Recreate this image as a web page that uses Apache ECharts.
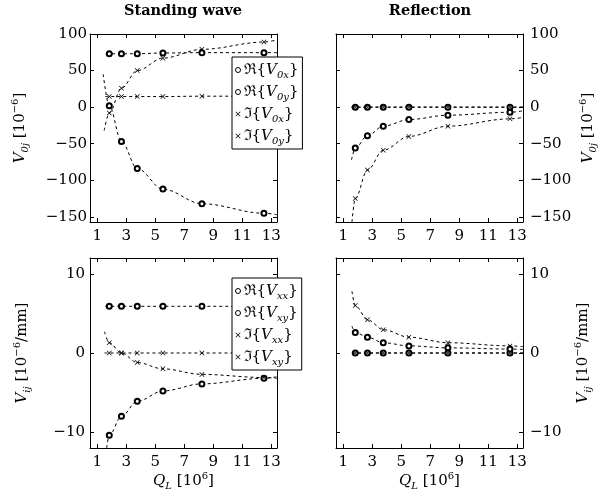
<!DOCTYPE html>
<html><head><meta charset="utf-8">
<script src="https://cdn.jsdelivr.net/npm/echarts@6/dist/echarts.min.js"></script>
<style>html,body{margin:0;padding:0;background:#fff}#c{width:609px;height:500px}</style>
</head><body><div id="c"></div>
<script>
// ---- data ----
const qL = [1.83, 2.67, 3.76, 5.53, 8.22, 12.5];      // Q_L [10^6]
const xTicks = [1, 3, 5, 7, 9, 11, 13];
const yTicksV0 = [-150, -100, -50, 0, 50, 100];
const yTicksVij = [-10, 0, 10];
const panelTitles = ['Standing wave', 'Reflection'];

// Standing wave, V0j [1e-6]
const swRe0x = [73, 73, 73, 74, 74.5, 74.5];   const swRe0xEnds = [[1.6, 73], [13.4, 74.5]];
const swRe0y = [2, -47, -84, -112, -132, -145]; const swRe0yEnds = [[1.41, 45], [13.4, -147]];
const swIm0x = [14.5, 14.5, 14.5, 14.5, 15, 15]; const swIm0xEnds = [[1.55, 14.5], [13.4, 15]];
const swIm0y = [-8, 26, 50, 67, 79, 89];        const swIm0yEnds = [[1.48, -32], [13.4, 92]];
// Reflection, V0j [1e-6]
const rfRe0x = [0, 0, 0, 0, 0, 0];              const rfRe0xEnds = [[1.57, 0], [13.4, 0]];
const rfRe0y = [-56, -39, -26, -17, -11, -7];   const rfRe0yEnds = [[1.57, -72], [13.4, -5]];
const rfIm0x = [0, 0, 0, 0, 0, 0];              const rfIm0xEnds = [[1.57, 0], [13.4, 0]];
const rfIm0y = [-125, -86, -59, -40, -26, -16]; const rfIm0yEnds = [[1.6, -157], [13.4, -14]];
// Standing wave, Vij [1e-6/mm]
const swRexx = [5.9, 5.9, 5.9, 5.9, 5.9, 5.9];  const swRexxEnds = [[1.55, 5.9], [13.4, 5.9]];
const swRexy = [-10.4, -8.0, -6.1, -4.8, -3.9, -3.2]; const swRexyEnds = [[1.65, -12], [13.4, -3.0]];
const swImxx = [0, 0, 0, 0, 0, 0];              const swImxxEnds = [[1.5, 0], [13.4, 0]];
const swImxy = [1.3, 0, -1.2, -2.0, -2.7, -3.1]; const swImxyEnds = [[1.5, 2.7], [13.4, -3.2]];
// Reflection, Vij [1e-6/mm]
const rfRexx = [0, 0, 0, 0, 0, 0];              const rfRexxEnds = [[1.6, 0], [13.4, 0]];
const rfRexy = [2.6, 2.0, 1.3, 0.9, 0.65, 0.5]; const rfRexyEnds = [[1.6, 3.4], [13.4, 0.45]];
const rfImxx = [0, 0, 0, 0, 0, 0];              const rfImxxEnds = [[1.6, 0], [13.4, 0]];
const rfImxy = [6.0, 4.2, 2.95, 2.0, 1.3, 0.9]; const rfImxyEnds = [[1.6, 7.8], [13.4, 0.8]];

// ---- styling / construction ----
const FONT = 'DejaVu Serif';
const XSYM = 'path://M0,1L1,0L5,4L9,0L10,1L6,5L10,9L9,10L5,6L1,10L0,9L4,5Z';
const grids = [
  {left: 90, top: 34, width: 187, height: 188},
  {left: 336, top: 34, width: 187, height: 188},
  {left: 90, top: 258, width: 187, height: 190},
  {left: 336, top: 258, width: 187, height: 190}
];
const minus = v => String(v).replace('-', '\u2212');
const rich = {
  n: {fontFamily: FONT, fontSize: 15, lineHeight: 20, color: '#000'},
  f: {fontFamily: FONT, fontSize: 15, lineHeight: 20, color: '#000'},
  i: {fontFamily: FONT, fontSize: 15, lineHeight: 20, fontStyle: 'italic', color: '#000'},
  s: {fontFamily: FONT, fontSize: 10, lineHeight: 10, fontStyle: 'italic', verticalAlign: 'bottom', color: '#000'},
  p: {fontFamily: FONT, fontSize: 10, lineHeight: 10, verticalAlign: 'top', color: '#000'}
};
const nameV0 = '{i|V}{s|0j}{n| [10}{p|\u22126}{n|]}';
const nameVij = '{i|V}{s|ij}{n| [10}{p|\u22126}{n|/mm]}';
const nameQ = '{i|Q}{s|L}{n| [10}{p|6}{n|]}';

const xAxis = [], yAxis = [];
grids.forEach((g, k) => {
  const bottomRow = k >= 2, rightCol = k % 2 === 1;
  const common = {type: 'value', gridIndex: k, min: 0.5, max: 13.4, splitLine: {show: false},
    axisLine: {show: true, onZero: false, lineStyle: {color: '#000', width: 1}},
    axisTick: {show: true, inside: true, length: 4, customValues: xTicks, lineStyle: {color: '#000'}}};
  xAxis.push(Object.assign({}, common, {position: 'bottom',
    axisLabel: {customValues: xTicks, margin: 7, color: '#000', fontFamily: FONT, fontSize: 15},
    name: bottomRow ? nameQ : '', nameLocation: 'middle', nameGap: 23,
    nameTextStyle: {rich: rich}}));
  xAxis.push(Object.assign({}, common, {position: 'top', axisLabel: {show: false}}));
  const yt = bottomRow ? yTicksVij : yTicksV0;
  const ymin = bottomRow ? -12 : -157, ymax = bottomRow ? 12 : 100;
  const yc = {type: 'value', gridIndex: k, min: ymin, max: ymax, splitLine: {show: false},
    axisLine: {show: true, onZero: false, lineStyle: {color: '#000', width: 1}},
    axisTick: {show: true, inside: true, length: 4, customValues: yt, lineStyle: {color: '#000'}}};
  yAxis.push(Object.assign({}, yc, {position: rightCol ? 'right' : 'left',
    axisLabel: {customValues: yt, margin: rightCol ? 7 : (bottomRow ? 5 : 3), color: '#000', fontFamily: FONT, fontSize: 15, formatter: minus},
    name: bottomRow ? nameVij : nameV0, nameLocation: 'middle', nameRotate: 90,
    nameGap: rightCol ? (bottomRow ? 50 : 55) : (bottomRow ? 58 : 60),
    nameTextStyle: {rich: rich}}));
  yAxis.push(Object.assign({}, yc, {position: rightCol ? 'left' : 'right', axisLabel: {show: false}}));
});

function curve(ys, ends) {
  const d = [{value: ends[0], symbol: 'none'}];
  qL.forEach((x, i) => d.push([x, ys[i]]));
  d.push({value: ends[1], symbol: 'none'});
  return d;
}
function mk(name, k, ys, ends, mark) {
  return {name: name, type: 'line', xAxisIndex: 2 * k, yAxisIndex: 2 * k,
    data: curve(ys, ends), smooth: 0.35, smoothMonotone: 'x',
    symbol: mark === 'o' ? 'emptyCircle' : XSYM, symbolSize: 5, showSymbol: true, showAllSymbol: true,
    lineStyle: {color: '#000', width: 1, type: [3, 3]},
    itemStyle: {color: '#000', borderWidth: 0.8}, emphasis: {disabled: true}, silent: true};
}
const series = [
  mk('swRe0x', 0, swRe0x, swRe0xEnds, 'o'), mk('swRe0y', 0, swRe0y, swRe0yEnds, 'o'),
  mk('swIm0x', 0, swIm0x, swIm0xEnds, 'x'), mk('swIm0y', 0, swIm0y, swIm0yEnds, 'x'),
  mk('rfRe0x', 1, rfRe0x, rfRe0xEnds, 'o'), mk('rfRe0y', 1, rfRe0y, rfRe0yEnds, 'o'),
  mk('rfIm0x', 1, rfIm0x, rfIm0xEnds, 'x'), mk('rfIm0y', 1, rfIm0y, rfIm0yEnds, 'x'),
  mk('swRexx', 2, swRexx, swRexxEnds, 'o'), mk('swRexy', 2, swRexy, swRexyEnds, 'o'),
  mk('swImxx', 2, swImxx, swImxxEnds, 'x'), mk('swImxy', 2, swImxy, swImxyEnds, 'x'),
  mk('rfRexx', 3, rfRexx, rfRexxEnds, 'o'), mk('rfRexy', 3, rfRexy, rfRexyEnds, 'o'),
  mk('rfImxx', 3, rfImxx, rfImxxEnds, 'x'), mk('rfImxy', 3, rfImxy, rfImxyEnds, 'x')
];
const legendText = {
  swRe0x: '{f|\u211C{}{i|V}{s|0x}}', swRe0y: '{f|\u211C{}{i|V}{s|0y}}',
  swIm0x: '{f|\u2111{}{i|V}{s|0x}}', swIm0y: '{f|\u2111{}{i|V}{s|0y}}',
  swRexx: '{f|\u211C{}{i|V}{s|xx}}', swRexy: '{f|\u211C{}{i|V}{s|xy}}',
  swImxx: '{f|\u2111{}{i|V}{s|xx}}', swImxy: '{f|\u2111{}{i|V}{s|xy}}'
};
function legendItem(name, mark) {
  return mark === 'o'
    ? {name: name, icon: 'circle', itemStyle: {color: '#fff', borderColor: '#000', borderWidth: 1}}
    : {name: name, icon: XSYM, itemStyle: {color: '#000', borderWidth: 0}};
}
function legend(names, top) {
  return {orient: 'vertical', left: 232, top: top, itemWidth: 5, itemHeight: 5, itemGap: 2,
    padding: [3, 4, 3, 3], borderColor: '#000', borderWidth: 1, backgroundColor: '#fff',
    selectedMode: false, z: 10,
    data: [legendItem(names[0], 'o'), legendItem(names[1], 'o'), legendItem(names[2], 'x'), legendItem(names[3], 'x')],
    formatter: n => legendText[n],
    textStyle: {fontFamily: FONT, fontSize: 15, lineHeight: 20, color: '#000', padding: [0, 0, 0, -2], rich: rich}};
}
const chart = echarts.init(document.getElementById('c'), null, {renderer: 'canvas'});
chart.setOption({
  animation: false,
  backgroundColor: '#fff',
  title: [
    {text: panelTitles[0], left: 183, top: 4, textAlign: 'center', padding: 0,
      textStyle: {fontFamily: FONT, fontWeight: 'bold', fontSize: 14.5, color: '#000'}},
    {text: panelTitles[1], left: 430, top: 4, textAlign: 'center', padding: 0,
      textStyle: {fontFamily: FONT, fontWeight: 'bold', fontSize: 14.5, color: '#000'}}
  ],
  grid: grids,
  xAxis: xAxis,
  yAxis: yAxis,
  legend: [legend(['swRe0x', 'swRe0y', 'swIm0x', 'swIm0y'], 57), legend(['swRexx', 'swRexy', 'swImxx', 'swImxy'], 278)],
  series: series
});
</script></body></html>
